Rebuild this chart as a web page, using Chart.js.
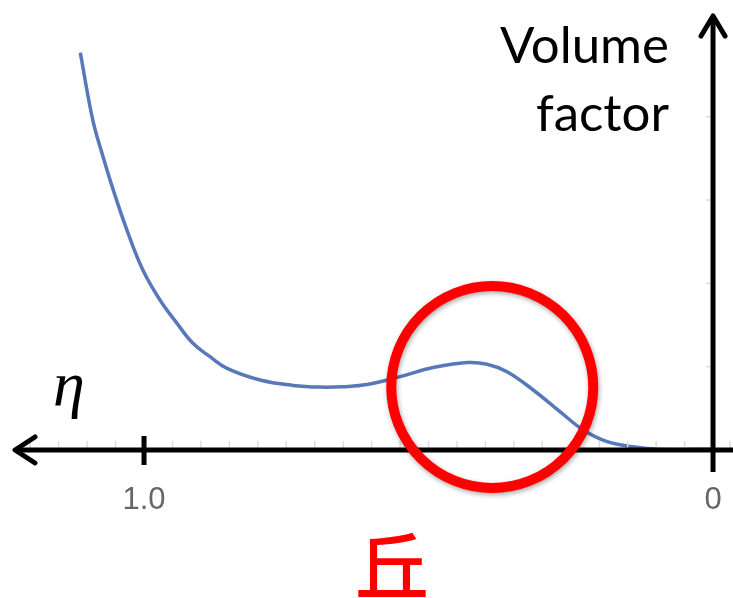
<!DOCTYPE html>
<html>
<head>
<meta charset="utf-8">
<script src="https://cdn.jsdelivr.net/npm/chart.js@4.4.0/dist/chart.umd.min.js"></script>
<style>
  html, body { margin: 0; padding: 0; background: #fff; }
  #wrap { width: 733px; height: 598px; position: relative; }
</style>
</head>
<body>
<div id="wrap"><canvas id="myChart"></canvas></div>
<script>
// eta (x, grows to the left) and the volume factor
var eta = [1.112, 1.090, 1.072, 1.054, 1.030, 1.002, 0.972, 0.942, 0.914, 0.884, 0.854,
           0.796, 0.738, 0.691, 0.650, 0.608, 0.550, 0.492, 0.432, 0.397, 0.362, 0.316,
           0.269, 0.228, 0.186, 0.141, 0.093, 0.0];
var volumeFactor = [4.77, 3.96, 3.52, 3.12, 2.64, 2.16, 1.80, 1.52, 1.28, 1.12, 0.98,
                    0.84, 0.775, 0.755, 0.76, 0.785, 0.88, 0.99, 1.05, 1.03, 0.94, 0.72,
                    0.46, 0.24, 0.10, 0.04, 0.01, 0.01];

var xTickValues = [1.0, 0];
var xTickLabels = ['1.0', '0'];
var minorStep = 0.05;
var yTickValues = [1, 2, 3, 4];

var hillCenter = { x: 0.388, y: 0.756 };

var points = [];
for (var i = 0; i < eta.length; i++) {
  points.push({ x: eta[i], y: volumeFactor[i] });
}

// draws the arrow axes, ticks, labels and the red circle
var axesPlugin = {
  id: 'axesPlugin',
  afterDraw: function(chart) {
    var ctx = chart.ctx;
    var xs = chart.scales.x;
    var ys = chart.scales.y;
    var x0 = xs.getPixelForValue(0);
    var y0 = ys.getPixelForValue(0);
    var left = chart.chartArea.left + 13;
    var right = chart.chartArea.right;

    ctx.save();

    // minor ticks on x
    ctx.strokeStyle = '#dcdcdc';
    ctx.lineWidth = 1.5;
    for (var v = minorStep; v < 1.22; v += minorStep) {
      var px = xs.getPixelForValue(v);
      ctx.beginPath();
      ctx.moveTo(px, y0 - 9);
      ctx.lineTo(px, y0);
      ctx.stroke();
    }
    // a tick just right of the y axis
    var pr = xs.getPixelForValue(-0.03);
    ctx.beginPath();
    ctx.moveTo(pr, y0 - 9);
    ctx.lineTo(pr, y0);
    ctx.stroke();

    // small ticks on y
    for (var k = 0; k < yTickValues.length; k++) {
      var py = ys.getPixelForValue(yTickValues[k]);
      ctx.beginPath();
      ctx.moveTo(x0 - 7, py);
      ctx.lineTo(x0, py);
      ctx.stroke();
    }

    // x axis with arrow to the left
    ctx.strokeStyle = '#000';
    ctx.lineWidth = 5;
    ctx.lineCap = 'butt';
    ctx.beginPath();
    ctx.moveTo(left + 2, y0);
    ctx.lineTo(right, y0);
    ctx.stroke();
    ctx.lineJoin = 'round';
    ctx.lineCap = 'round';
    ctx.beginPath();
    ctx.moveTo(left + 22, y0 - 13);
    ctx.lineTo(left + 2, y0);
    ctx.lineTo(left + 22, y0 + 13);
    ctx.stroke();

    // y axis with arrow at the top
    ctx.lineCap = 'butt';
    ctx.beginPath();
    ctx.moveTo(x0, y0 + 22);
    ctx.lineTo(x0, 16);
    ctx.stroke();
    ctx.lineCap = 'round';
    ctx.beginPath();
    ctx.moveTo(x0 - 12, 36);
    ctx.lineTo(x0, 16);
    ctx.lineTo(x0 + 12, 36);
    ctx.stroke();

    // major tick at 1.0
    var p1 = xs.getPixelForValue(1.0);
    ctx.lineCap = 'butt';
    ctx.beginPath();
    ctx.moveTo(p1, y0 - 14);
    ctx.lineTo(p1, y0 + 15);
    ctx.stroke();

    // tick labels
    ctx.fillStyle = '#666666';
    ctx.font = '31px "Liberation Sans", Arial, sans-serif';
    ctx.textAlign = 'center';
    ctx.textBaseline = 'alphabetic';
    for (var t = 0; t < xTickValues.length; t++) {
      ctx.fillText(xTickLabels[t], xs.getPixelForValue(xTickValues[t]), y0 + 59);
    }

    // axis titles
    ctx.fillStyle = '#000';
    ctx.font = '51px Lato, "Open Sans", sans-serif';
    ctx.textAlign = 'right';
    ctx.fillText('Volume', 669, 63);
    ctx.fillText('factor', 669, 131);

    ctx.font = 'italic 64px "Liberation Serif", "DejaVu Serif", serif';
    ctx.textAlign = 'left';
    ctx.fillText('\u03B7', 53, 405);

    // red circle round the hill
    var cx = xs.getPixelForValue(hillCenter.x);
    var cy = ys.getPixelForValue(hillCenter.y);
    ctx.shadowColor = 'rgba(0,0,0,0.35)';
    ctx.shadowBlur = 5;
    ctx.shadowOffsetX = 1;
    ctx.shadowOffsetY = 2;
    ctx.strokeStyle = '#ff0000';
    ctx.lineWidth = 10;
    ctx.beginPath();
    ctx.arc(cx, cy, 101, 0, Math.PI * 2);
    ctx.stroke();
    ctx.shadowColor = 'transparent';

    ctx.fillStyle = '#ff0000';
    ctx.font = '500 74px "Noto Sans CJK SC", sans-serif';
    ctx.textAlign = 'center';
    ctx.textBaseline = 'middle';
    ctx.fillText('丘', 392, 566);

    ctx.restore();
  }
};

var graph = document.getElementById('myChart');

var myChart = new Chart(graph, {
  type: 'line',
  data: {
    datasets: [{
      data: points,
      borderColor: '#5878b9',
      borderWidth: 3.5,
      pointRadius: 0,
      fill: false,
      tension: 0.4
    }]
  },
  options: {
    responsive: true,
    maintainAspectRatio: false,
    animation: false,
    layout: { padding: 0 },
    plugins: {
      legend: { display: false },
      tooltip: { enabled: false }
    },
    scales: {
      x: {
        type: 'linear',
        reverse: true,
        min: -0.0351,
        max: 1.2531,
        display: false
      },
      y: {
        type: 'linear',
        min: -1.777,
        max: 5.402,
        display: false
      }
    }
  },
  plugins: [axesPlugin]
});
</script>
</body>
</html>
